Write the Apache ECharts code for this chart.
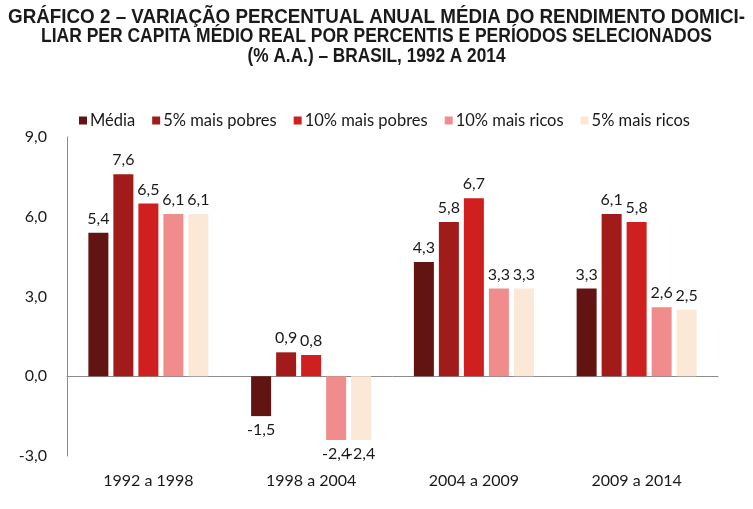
<!DOCTYPE html>
<html><head><meta charset="utf-8">
<script src="https://cdn.jsdelivr.net/npm/echarts@6/dist/echarts.min.js"></script>
<style>html,body{margin:0;padding:0;background:#fff}#c{width:753px;height:509px}</style>
</head><body><div id="c"></div>
<script>
const titleLines = ['GRÁFICO 2 – VARIAÇÃO PERCENTUAL ANUAL MÉDIA DO RENDIMENTO DOMICI-',
  'LIAR PER CAPITA MÉDIO REAL POR PERCENTIS E PERÍODOS SELECIONADOS',
  '(% A.A.) – BRASIL, 1992 A 2014'];
const categories = ['1992 a 1998','1998 a 2004','2004 a 2009','2009 a 2014'];
const seriesNames = ['Média','5% mais pobres','10% mais pobres','10% mais ricos','5% mais ricos'];
const media = [5.4, -1.5, 4.3, 3.3];
const pobres5 = [7.6, 0.9, 5.8, 6.1];
const pobres10 = [6.5, 0.8, 6.7, 5.8];
const ricos10 = [6.1, -2.4, 3.3, 2.6];
const ricos5 = [6.1, -2.4, 3.3, 2.5];
const yTicks = [-3, 0, 3, 6, 9];
const colors = ['#611411','#a21b1b','#cf1f1f','#f08d8c','#fbe8d6'];
const allValues = [media, pobres5, pobres10, ricos10, ricos5];
const font = 'Lato, "Open Sans", sans-serif';
const titleFont = 'bold 21px "Liberation Sans", Arial, sans-serif';
const titleWidths = [737, 671, 258];
const fmt = v => v.toFixed(1).replace('.', ',');
const cv = document.createElement('canvas').getContext('2d');
cv.font = titleFont;
const chart = echarts.init(document.getElementById('c'));
chart.setOption({
  animation:false,
  graphic: titleLines.map((t,i)=>({
    type:'text', x:376.5, y:17 + i*19.5, scaleX:titleWidths[i]/cv.measureText(t).width, originX:0,
    style:{text:t, font:titleFont, fill:'#1a1a1a', align:'center', verticalAlign:'middle'}
  })),
  legend:{top:107, left:74, itemWidth:8, itemHeight:8, itemGap:17, icon:'rect',
    textStyle:{fontFamily:font, fontSize:16.5, color:'#1a1a1a', padding:[0,0,0,-2]},
    data:seriesNames},
  grid:{left:67, right:35, top:137, bottom:53, outerBoundsMode:'none', containLabel:false},
  xAxis:[{type:'category', data:categories, position:'bottom',
    axisLine:{show:false, onZero:false}, axisTick:{show:false},
    axisLabel:{fontFamily:font, fontSize:16, color:'#1a1a1a', margin:17}},
   {type:'category', data:categories, position:'bottom',
    axisLine:{show:true, onZero:true, lineStyle:{color:'#8c8c8c'}}, axisTick:{show:false},
    axisLabel:{show:false}}],
  yAxis:{type:'value', min:yTicks[0], max:yTicks[yTicks.length-1], interval:3,
    axisLine:{show:true, lineStyle:{color:'#8c8c8c'}}, axisTick:{show:false},
    splitLine:{show:false},
    axisLabel:{fontFamily:font, fontSize:16, color:'#1a1a1a', margin:20, formatter:v=>fmt(v)}},
  series: seriesNames.map((n,i)=>({
    name:n, type:'bar', xAxisIndex:0, barWidth:20, barGap:'25%',
    itemStyle:{color:colors[i]},
    data: allValues[i].map(v=>({value:v, label:{position: v<0?'bottom':'top'}})),
    label:{show:true, fontFamily:font, fontSize:16, color:'#1a1a1a', distance:6,
      formatter:p=>fmt(p.value)}
  }))
});
</script></body></html>
